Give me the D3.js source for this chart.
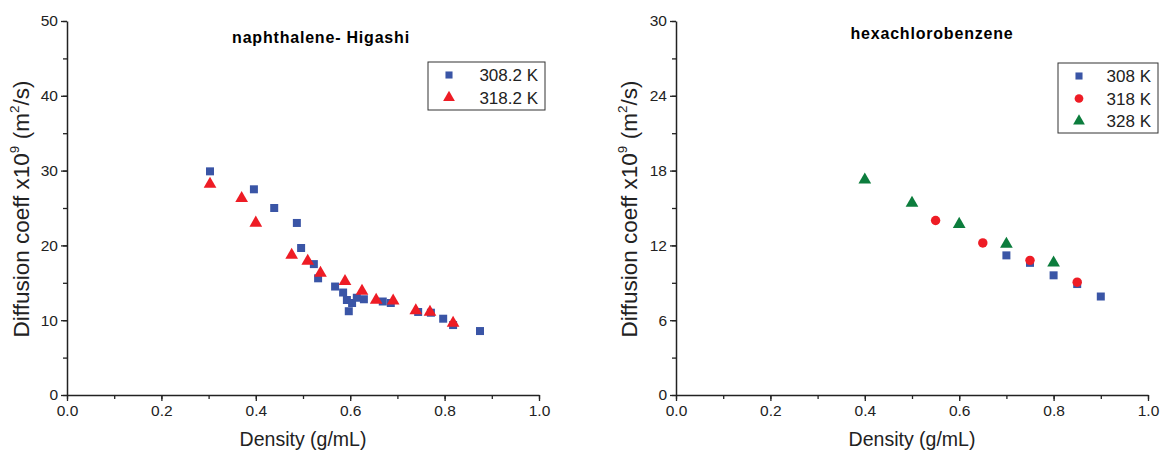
<!DOCTYPE html>
<html><head><meta charset="utf-8">
<script src="https://cdn.jsdelivr.net/npm/d3@7"></script>
<style>body{margin:0;background:#fff}text{font-family:"Liberation Sans",Arial,sans-serif}</style>
</head><body>
<svg id="c" width="1162" height="452"></svg>
<script>
// Left panel: naphthalene - Higashi
const naphX308 = [0.303,0.396,0.439,0.487,0.496,0.523,0.532,0.568,0.585,0.593,0.604,0.597,0.614,0.629,0.669,0.686,0.744,0.771,0.797,0.818,0.875];
const naphY308 = [29.9,27.5,25.0,23.0,19.65,17.5,15.6,14.5,13.7,12.7,12.3,11.2,13.0,12.8,12.5,12.3,11.1,11.0,10.2,9.35,8.55];
const naphX318 = [0.303,0.370,0.400,0.476,0.510,0.537,0.589,0.625,0.655,0.691,0.739,0.769,0.818];
const naphY318 = [28.2,26.3,23.0,18.7,17.9,16.3,15.2,13.9,12.7,12.6,11.3,11.1,9.6];
// Right panel: hexachlorobenzene
const hcbX308 = [0.7,0.75,0.8,0.85,0.9];
const hcbY308 = [11.2,10.6,9.6,8.9,7.9];
const hcbX318 = [0.55,0.65,0.75,0.85];
const hcbY318 = [14.0,12.2,10.8,9.05];
const hcbX328 = [0.4,0.5,0.6,0.7,0.8];
const hcbY328 = [17.25,15.4,13.7,12.1,10.6];
const xTicks = [0,0.2,0.4,0.6,0.8,1.0];
const leftYTicks = [0,10,20,30,40,50];
const rightYTicks = [0,6,12,18,24,30];

const BLUE="#3a55a6", RED="#ee1c25", GREEN="#0c7d3d";
const svg=d3.select("#c");

function zip(xs,ys){return xs.map((x,i)=>({x,y:ys[i]}));}

function panel(o){
  const g=svg.append("g");
  const x=d3.scaleLinear().domain([0,1]).range([o.x0,o.x0+472]);
  const y=d3.scaleLinear().domain([0,o.ymax]).range([395,21]);
  // minor ticks
  const xa=g.append("g").attr("transform","translate(0,395)")
    .call(d3.axisBottom(x).tickValues(d3.range(0,1.0001,0.1)).tickSize(4).tickFormat(""));
  xa.selectAll("path").remove();
  const ya=g.append("g").attr("transform",`translate(${o.x0},0)`)
    .call(d3.axisLeft(y).tickValues(d3.range(0,o.ymax+0.001,o.ymax/10)).tickSize(4).tickFormat(""));
  ya.selectAll("path").remove();
  const xm=g.append("g").attr("transform","translate(0,395)")
    .call(d3.axisBottom(x).tickValues(xTicks).tickSize(6).tickSizeOuter(0).tickPadding(4).tickFormat(d3.format(".1f")));
  const ym=g.append("g").attr("transform",`translate(${o.x0},0)`)
    .call(d3.axisLeft(y).tickValues(o.yt).tickSize(6).tickSizeOuter(0).tickPadding(3));
  g.selectAll(".tick line").attr("stroke","#222").attr("stroke-width",1.3);
  g.selectAll(".domain").attr("stroke","#222").attr("stroke-width",1.5);
  g.selectAll(".tick text").attr("font-size",15.5).attr("fill","#222").attr("font-family","Liberation Sans, Arial, sans-serif");
  // titles
  g.append("text").attr("x",o.x0+o.tx).attr("y",o.ty).attr("text-anchor","middle")
    .attr("font-size",16).attr("font-weight","bold").attr("letter-spacing",0.8).text(o.title);
  g.append("text").attr("x",o.x0+236).attr("y",446).attr("text-anchor","middle")
    .attr("font-size",19.5).attr("fill","#222").text("Density (g/mL)");
  const yl=g.append("text").attr("transform",`translate(${o.x0-o.ylOff},209) rotate(-90)`)
    .attr("text-anchor","middle").attr("font-size",22.5).attr("fill","#222");
  yl.append("tspan").text("Diffusion coeff x10");
  yl.append("tspan").attr("font-size",13.5).attr("dy",-10).text("9");
  yl.append("tspan").attr("dy",10).text(" (m");
  yl.append("tspan").attr("font-size",13.5).attr("dy",-10).text("2");
  yl.append("tspan").attr("dy",10).text("/s)");
  // series
  o.series.forEach(s=>{
    const sym=d3.symbol().type(s.shape).size(s.size);
    g.append("g").selectAll("path").data(s.data).join("path")
      .attr("transform",d=>`translate(${x(d.x)},${y(d.y)})`)
      .attr("d",sym).attr("fill",s.color);
  });
  // legend
  const L=o.legend;
  g.append("rect").attr("x",L.x).attr("y",L.y).attr("width",L.w).attr("height",L.h)
    .attr("fill","#fff").attr("stroke","#333").attr("stroke-width",1);
  o.series.forEach((s,i)=>{
    const cy=L.y+13+i*22.5;
    g.append("path").attr("transform",`translate(${L.x+21},${cy})`)
      .attr("d",d3.symbol().type(s.shape).size(s.lsize)).attr("fill",s.color);
    g.append("text").attr("x",L.x+L.w-7).attr("y",cy+6).attr("text-anchor","end")
      .attr("font-size",17).attr("fill","#222").text(s.label);
  });
}

panel({x0:67,ymax:50,yt:leftYTicks,title:"naphthalene- Higashi",tx:254,ty:43,ylOff:38,
  legend:{x:428,y:62,w:117,h:48},
  series:[
    {data:zip(naphX308,naphY308),shape:d3.symbolSquare,size:64,lsize:50,color:BLUE,label:"308.2 K"},
    {data:zip(naphX318,naphY318),shape:d3.symbolTriangle,size:70,lsize:60,color:RED,label:"318.2 K"}
  ]});
panel({x0:676,ymax:30,yt:rightYTicks,title:"hexachlorobenzene",tx:256,ty:39,ylOff:39,
  legend:{x:1058,y:63,w:100,h:70},
  series:[
    {data:zip(hcbX308,hcbY308),shape:d3.symbolSquare,size:64,lsize:50,color:BLUE,label:"308 K"},
    {data:zip(hcbX318,hcbY318),shape:d3.symbolCircle,size:70,lsize:60,color:RED,label:"318 K"},
    {data:zip(hcbX328,hcbY328),shape:d3.symbolTriangle,size:70,lsize:60,color:GREEN,label:"328 K"}
  ]});
</script>
</body></html>
